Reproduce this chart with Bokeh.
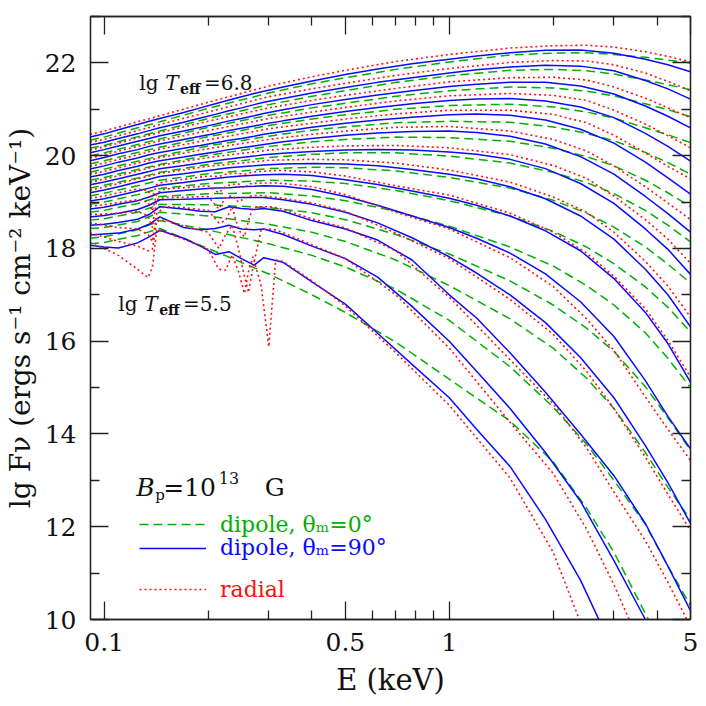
import math
from bokeh.plotting import figure
from bokeh.models import (Range1d, FixedTicker, LogAxis, LinearAxis, Label,
                          Legend, LegendItem, CustomJSTickFormatter, CustomLabelingPolicy)
from bokeh.embed import file_html
from bokeh.resources import INLINE

# ---------------- data ----------------
TEMPS = [6.8, 6.7, 6.6, 6.5, 6.4, 6.3, 6.2, 6.1, 6.0, 5.9, 5.8, 5.7, 5.6, 5.5]

# dipole, theta_m = 90 deg (blue solid)
BLUE_E = [0.091, 0.1, 0.11, 0.125, 0.135, 0.145, 0.17, 0.19, 0.21, 0.23, 0.25, 0.272, 0.29,
          0.33, 0.4, 0.5, 0.62, 0.78, 1.0, 1.2, 1.5, 1.9, 2.4, 3.0, 3.7, 4.3, 5.0]
BLUE = [
    [20.40, 20.47, 20.56, 20.67, 20.74, 20.80, 20.93, 21.03, 21.12, 21.20, 21.27, 21.34, 21.39, 21.48, 21.61, 21.75, 21.87, 21.98, 22.08, 22.15, 22.22, 22.27, 22.28, 22.21, 22.08, 21.96, 21.81],
    [20.23, 20.29, 20.37, 20.47, 20.54, 20.60, 20.72, 20.81, 20.89, 20.97, 21.03, 21.10, 21.15, 21.23, 21.35, 21.47, 21.58, 21.68, 21.78, 21.85, 21.91, 21.95, 21.93, 21.83, 21.62, 21.44, 21.22],
    [20.06, 20.13, 20.21, 20.31, 20.37, 20.43, 20.53, 20.61, 20.68, 20.75, 20.80, 20.86, 20.91, 20.99, 21.10, 21.21, 21.31, 21.40, 21.49, 21.54, 21.58, 21.58, 21.50, 21.33, 21.07, 20.85, 20.60],
    [19.89, 19.96, 20.04, 20.13, 20.20, 20.25, 20.35, 20.42, 20.48, 20.54, 20.59, 20.64, 20.68, 20.75, 20.85, 20.95, 21.04, 21.12, 21.19, 21.22, 21.23, 21.18, 21.05, 20.82, 20.48, 20.20, 19.88],
    [19.71, 19.78, 19.86, 19.95, 20.02, 20.07, 20.16, 20.22, 20.28, 20.33, 20.37, 20.42, 20.46, 20.52, 20.61, 20.70, 20.77, 20.83, 20.88, 20.90, 20.87, 20.77, 20.57, 20.27, 19.86, 19.52, 19.17],
    [19.54, 19.60, 19.68, 19.77, 19.84, 19.89, 19.97, 20.03, 20.08, 20.13, 20.17, 20.21, 20.24, 20.30, 20.37, 20.44, 20.49, 20.52, 20.53, 20.50, 20.42, 20.25, 19.98, 19.60, 19.12, 18.75, 18.35],
    [19.37, 19.43, 19.50, 19.60, 19.66, 19.72, 19.79, 19.84, 19.89, 19.93, 19.96, 19.99, 20.02, 20.05, 20.09, 20.12, 20.13, 20.12, 20.08, 20.03, 19.92, 19.72, 19.40, 18.97, 18.42, 17.98, 17.44],
    [19.20, 19.26, 19.33, 19.43, 19.49, 19.55, 19.61, 19.66, 19.70, 19.74, 19.76, 19.78, 19.80, 19.82, 19.83, 19.82, 19.78, 19.70, 19.60, 19.50, 19.33, 19.07, 18.70, 18.20, 17.55, 17.00, 16.31],
    [19.02, 19.07, 19.14, 19.24, 19.30, 19.36, 19.42, 19.47, 19.51, 19.54, 19.56, 19.58, 19.59, 19.60, 19.57, 19.48, 19.38, 19.24, 19.08, 18.93, 18.70, 18.38, 17.95, 17.35, 16.62, 15.95, 15.12],
    [18.85, 18.89, 18.95, 19.03, 19.11, 19.20, 19.25, 19.28, 19.30, 19.31, 19.33, 19.34, 19.35, 19.34, 19.27, 19.12, 18.93, 18.70, 18.45, 18.22, 17.90, 17.45, 16.85, 16.10, 15.15, 14.38, 13.68],
    [18.68, 18.71, 18.76, 18.84, 18.93, 19.05, 19.06, 19.07, 19.08, 19.09, 19.10, 19.10, 19.10, 19.05, 18.95, 18.78, 18.55, 18.23, 17.82, 17.47, 17.00, 16.40, 15.65, 14.78, 13.75, 12.95, 12.07],
    [18.50, 18.52, 18.56, 18.63, 18.73, 18.90, 18.85, 18.80, 18.79, 18.90, 18.86, 18.84, 18.86, 18.80, 18.60, 18.42, 18.18, 17.75, 17.00, 16.50, 15.75, 14.90, 14.00, 13.10, 12.07, 11.15, 10.19],
    [18.29, 18.31, 18.33, 18.42, 18.52, 18.68, 18.45, 18.40, 18.43, 18.50, 18.42, 18.40, 18.42, 18.30, 18.05, 17.78, 17.38, 16.75, 16.00, 15.35, 14.55, 13.60, 12.55, 11.27, 10.00, 8.80, 7.50],
    [18.07, 18.03, 18.01, 18.12, 18.25, 18.39, 18.22, 18.05, 17.87, 17.93, 17.78, 17.64, 17.80, 17.70, 17.28, 16.80, 16.17, 15.50, 14.78, 14.10, 13.30, 12.16, 10.85, 9.30, 7.50, 6.00, 4.30],
]

# dipole, theta_m = 0 deg (green dashed)
SMOOTH_E = [0.091, 0.1, 0.125, 0.145, 0.2, 0.3, 0.4, 0.5, 0.7, 1.0, 1.5, 2.0, 2.5, 3.0, 3.7, 4.3, 5.0]
GREEN = [
    [20.33, 20.40, 20.60, 20.73, 21.02, 21.35, 21.55, 21.68, 21.86, 22.02, 22.17, 22.21, 22.22, 22.18, 22.12, 22.06, 22.00],
    [20.16, 20.22, 20.41, 20.53, 20.80, 21.10, 21.28, 21.40, 21.58, 21.72, 21.84, 21.86, 21.83, 21.76, 21.63, 21.53, 21.42],
    [19.99, 20.06, 20.24, 20.36, 20.61, 20.87, 21.03, 21.13, 21.28, 21.40, 21.48, 21.46, 21.39, 21.29, 21.12, 20.99, 20.84],
    [19.82, 19.89, 20.07, 20.18, 20.41, 20.65, 20.79, 20.88, 21.00, 21.08, 21.11, 21.05, 20.94, 20.81, 20.60, 20.45, 20.28],
    [19.64, 19.71, 19.88, 19.99, 20.21, 20.42, 20.55, 20.62, 20.71, 20.74, 20.72, 20.62, 20.48, 20.32, 20.07, 19.85, 19.60],
    [19.47, 19.53, 19.70, 19.81, 20.01, 20.20, 20.30, 20.35, 20.40, 20.39, 20.31, 20.16, 19.98, 19.78, 19.47, 19.20, 18.90],
    [19.30, 19.36, 19.52, 19.64, 19.81, 19.96, 20.03, 20.06, 20.06, 19.99, 19.84, 19.64, 19.42, 19.18, 18.82, 18.50, 18.14],
    [19.13, 19.19, 19.35, 19.47, 19.61, 19.72, 19.75, 19.74, 19.67, 19.53, 19.30, 19.04, 18.76, 18.46, 18.03, 17.66, 17.25],
    [18.95, 19.00, 19.16, 19.29, 19.40, 19.47, 19.45, 19.40, 19.25, 19.03, 18.70, 18.37, 18.03, 17.67, 17.17, 16.73, 16.20],
    [18.78, 18.82, 18.97, 19.12, 19.18, 19.20, 19.13, 19.03, 18.80, 18.48, 18.03, 17.62, 17.20, 16.78, 16.18, 15.63, 15.00],
    [18.61, 18.64, 18.78, 18.95, 18.94, 18.88, 18.77, 18.62, 18.30, 17.88, 17.30, 16.78, 16.28, 15.78, 15.02, 14.35, 13.65],
    [18.43, 18.45, 18.58, 18.78, 18.70, 18.52, 18.35, 18.15, 17.75, 17.20, 16.48, 15.85, 15.20, 14.55, 13.60, 12.85, 12.15],
    [18.22, 18.25, 18.40, 18.60, 18.40, 18.10, 17.85, 17.60, 17.12, 16.45, 15.45, 14.58, 13.78, 13.00, 12.05, 11.15, 10.30],
    [18.10, 18.13, 18.28, 18.43, 18.00, 17.45, 17.00, 16.62, 15.98, 15.18, 14.28, 13.40, 12.40, 11.45, 10.13, 9.20, 8.20],
]

# radial (red dotted): hot models on SMOOTH_E, cool models (6.0 .. 5.5) on RED_COOL_E
RED_HOT = [
    [20.46, 20.53, 20.73, 20.86, 21.15, 21.50, 21.70, 21.84, 22.03, 22.18, 22.32, 22.37, 22.38, 22.34, 22.24, 22.14, 22.02],
    [20.29, 20.35, 20.54, 20.67, 20.94, 21.27, 21.44, 21.56, 21.73, 21.88, 22.01, 22.05, 22.04, 21.96, 21.78, 21.60, 21.40],
    [20.12, 20.19, 20.38, 20.50, 20.74, 21.03, 21.19, 21.30, 21.45, 21.59, 21.68, 21.69, 21.63, 21.48, 21.24, 21.03, 20.82],
    [19.95, 20.02, 20.20, 20.32, 20.54, 20.80, 20.94, 21.04, 21.18, 21.29, 21.34, 21.30, 21.19, 20.98, 20.68, 20.43, 20.17],
    [19.77, 19.84, 20.02, 20.14, 20.34, 20.58, 20.70, 20.79, 20.90, 20.98, 20.98, 20.89, 20.71, 20.44, 20.06, 19.77, 19.50],
    [19.60, 19.66, 19.84, 19.96, 20.15, 20.35, 20.46, 20.53, 20.61, 20.63, 20.53, 20.35, 20.10, 19.78, 19.33, 18.98, 18.62],
    [19.43, 19.49, 19.67, 19.79, 19.96, 20.12, 20.18, 20.21, 20.22, 20.17, 20.02, 19.79, 19.51, 19.13, 18.62, 18.20, 17.68],
    [19.26, 19.32, 19.50, 19.62, 19.77, 19.90, 19.92, 19.91, 19.84, 19.69, 19.43, 19.11, 18.78, 18.35, 17.72, 17.19, 16.52],
]
RED_COOL_E = [0.091, 0.1, 0.11, 0.125, 0.134, 0.138, 0.142, 0.15, 0.17, 0.2, 0.215, 0.225, 0.235,
              0.245, 0.255, 0.262, 0.27, 0.285, 0.3, 0.314, 0.33, 0.4, 0.5, 0.7, 1.0, 1.5, 2.0,
              2.5, 3.0, 3.7, 4.3, 5.0]
RED_COOL = [
    [19.08, 19.13, 19.20, 19.28, 19.25, 19.10, 19.38, 19.44, 19.49, 19.56, 19.55, 19.60, 19.62, 19.62, 19.60, 19.62, 19.65, 19.66, 19.67, 19.68, 19.68, 19.65, 19.56, 19.35, 19.15, 18.76, 18.35, 17.90, 17.40, 16.70, 16.02, 15.23],
    [18.91, 18.94, 18.99, 19.05, 19.00, 18.80, 19.20, 19.28, 19.31, 19.35, 19.20, 19.34, 19.38, 19.39, 19.30, 19.39, 19.40, 19.41, 19.41, 19.41, 19.40, 19.33, 19.16, 18.78, 18.42, 17.80, 17.18, 16.48, 15.80, 14.80, 14.10, 13.43],
    [18.73, 18.74, 18.76, 18.80, 18.70, 18.45, 19.05, 19.10, 19.10, 19.12, 18.85, 19.10, 19.14, 19.00, 19.08, 19.12, 19.14, 19.14, 19.12, 19.10, 19.08, 18.98, 18.80, 18.33, 17.78, 16.90, 16.15, 15.35, 14.55, 13.50, 12.70, 11.92],
    [18.55, 18.50, 18.45, 18.42, 18.30, 18.15, 18.75, 18.90, 18.88, 18.82, 18.55, 18.60, 18.90, 18.40, 18.25, 18.60, 18.88, 18.90, 18.90, 18.88, 18.84, 18.64, 18.44, 17.95, 16.95, 15.60, 14.65, 13.70, 12.75, 11.70, 10.80, 9.85],
    [18.33, 18.25, 18.15, 18.05, 17.95, 17.98, 18.60, 18.62, 18.48, 18.35, 18.00, 18.30, 18.50, 18.00, 17.40, 17.05, 17.60, 18.40, 18.42, 18.40, 18.34, 18.08, 17.78, 17.00, 15.85, 14.25, 13.15, 11.95, 10.75, 9.20, 7.90, 6.40],
    [18.12, 18.00, 17.85, 17.55, 17.37, 17.60, 18.40, 18.35, 18.20, 17.98, 17.55, 17.53, 17.86, 17.50, 17.03, 17.50, 17.82, 17.20, 15.88, 17.75, 17.72, 17.30, 16.76, 15.75, 14.62, 13.05, 11.45, 9.60, 8.00, 6.00, 4.30, 2.50],
]

X_TICKS = [0.1, 0.5, 1, 5]
X_MINOR = [0.2, 0.3, 0.4, 0.6, 0.7, 0.8, 0.9, 2, 3, 4]
Y_TICKS = [10, 12, 14, 16, 18, 20, 22]
Y_MINOR = [11, 13, 15, 17, 19, 21, 23]

X_LABEL = "E (keV)"
Y_LABEL = "lg Fν (ergs s⁻¹ cm⁻² keV⁻¹)"

# ---------------- styling / layout ----------------
X0, X1 = 0.0913, 5.0
Y0, Y1 = 10.0, 23.0
W = H = 706
FL, FR, FT, FB = 87, 690, 16, 619          # frame edges on the canvas (px)
BLUE_C, GREEN_C, RED_C = "#0a0aff", "#00b000", "#ff1010"
SERIF = "DejaVu Serif"
AX_C = "#222222"


def dx(px):
    lo, hi = math.log10(X0), math.log10(X1)
    return 10 ** (lo + (px - FL) / (FR - FL) * (hi - lo))


def dy(py):
    return Y1 - (py - FT) / (FB - FT) * (Y1 - Y0)


p = figure(width=W, height=H, x_axis_type="log",
           x_range=Range1d(X0, X1), y_range=Range1d(Y0, Y1),
           output_backend="svg", toolbar_location=None,
           min_border_left=FL, min_border_right=W - FR,
           min_border_top=FT, min_border_bottom=H - FB)
p.xgrid.visible = False
p.ygrid.visible = False
p.outline_line_color = AX_C
p.outline_line_width = 1.3
p.background_fill_color = "white"
p.border_fill_color = "white"


def style_axis(ax, labels=True):
    ax.axis_line_color = AX_C
    ax.axis_line_width = 1.3
    ax.major_tick_line_color = AX_C
    ax.minor_tick_line_color = AX_C
    ax.major_tick_line_width = 1.3
    ax.minor_tick_line_width = 1.3
    ax.major_tick_in = 18
    ax.major_tick_out = 0
    ax.minor_tick_in = 9
    ax.minor_tick_out = 0
    if labels:
        ax.major_label_text_font = SERIF
        ax.major_label_text_font_size = "25px"
        ax.major_label_text_color = "#111111"
    else:
        ax.major_label_policy = CustomLabelingPolicy(code="return new Set()")
        ax.major_label_text_font_size = "0px"
        ax.major_label_standoff = 0


xt = FixedTicker(ticks=X_TICKS, minor_ticks=X_MINOR)
yt = FixedTicker(ticks=Y_TICKS, minor_ticks=Y_MINOR)
fmt = CustomJSTickFormatter(code="return String(tick)")

xa = p.xaxis[0]
xa.ticker = xt
xa.formatter = fmt
style_axis(xa)
xa.major_label_standoff = 13
xa.axis_label = X_LABEL
xa.axis_label_text_font = SERIF
xa.axis_label_text_font_size = "29px"
xa.axis_label_text_font_style = "normal"
xa.axis_label_text_color = "#111111"
xa.axis_label_standoff = 9

ya = p.yaxis[0]
ya.ticker = yt
style_axis(ya)
ya.major_label_standoff = 14
ya.axis_label = Y_LABEL
ya.axis_label_text_font = SERIF
ya.axis_label_text_font_size = "28px"
ya.axis_label_text_font_style = "normal"
ya.axis_label_text_color = "#111111"
ya.axis_label_standoff = 5

top = LogAxis(ticker=FixedTicker(ticks=X_TICKS, minor_ticks=X_MINOR))
style_axis(top, labels=False)
p.add_layout(top, "above")
right = LinearAxis(ticker=FixedTicker(ticks=Y_TICKS, minor_ticks=Y_MINOR))
style_axis(right, labels=False)
p.add_layout(right, "right")

# ---------------- curves ----------------
green_r, blue_r, red_r = [], [], []
for vals in GREEN:
    green_r.append(p.line(SMOOTH_E, vals, line_color=GREEN_C, line_width=1.5, line_dash="9 5"))
for vals in BLUE:
    blue_r.append(p.line(BLUE_E, vals, line_color=BLUE_C, line_width=1.5))
for vals in RED_HOT:
    red_r.append(p.line(SMOOTH_E, vals, line_color=RED_C, line_width=1.6, line_dash="2 3"))
for vals in RED_COOL:
    red_r.append(p.line(RED_COOL_E, vals, line_color=RED_C, line_width=1.6, line_dash="2 3"))

# ---------------- legends ----------------
def one_legend(label, rend, color, line_y):
    lg = Legend(items=[LegendItem(label=label, renderers=[rend])],
                location=(136 - FL, (FB - line_y) - 15),
                glyph_width=67, glyph_height=22, label_height=22,
                label_standoff=14, label_text_color=color,
                label_text_font=SERIF, label_text_font_size="22px",
                padding=0, margin=0, spacing=0,
                border_line_color=None, background_fill_alpha=0)
    p.add_layout(lg)

one_legend("dipole, θₘ=0°", green_r[0], GREEN_C, 521.7)
one_legend("dipole, θₘ=90°", blue_r[0], BLUE_C, 545.0)
one_legend("radial", red_r[0], RED_C, 586.7)


def txt(px, py, s, size, color="#111111", style="normal"):
    p.add_layout(Label(x=dx(px), y=dy(py), x_units="data", y_units="data", text=s,
                       text_font=SERIF, text_font_size=size, text_color=color,
                       text_font_style=style,
                       text_align="left", text_baseline="alphabetic"))

# B_p = 10^13 G
txt(133, 487, "B", "25px", style="italic")
txt(152, 494, "p", "15px")
txt(160, 487, "=10", "25px")
txt(216, 477, "13", "16px")
txt(262, 487, "G", "25px")

# lg T_eff labels
for (x0, yb, s) in [(136, 82, "=6.8"), (115, 303, "=5.5")]:
    txt(x0, yb, "lg", "20px")
    txt(x0 + 26, yb, "T", "20px", style="italic")
    txt(x0 + 41, yb + 6, "eff", "14px", style="bold")
    txt(x0 + 65, yb, s, "20px")

open("out.html", "w").write(file_html(p, INLINE))
